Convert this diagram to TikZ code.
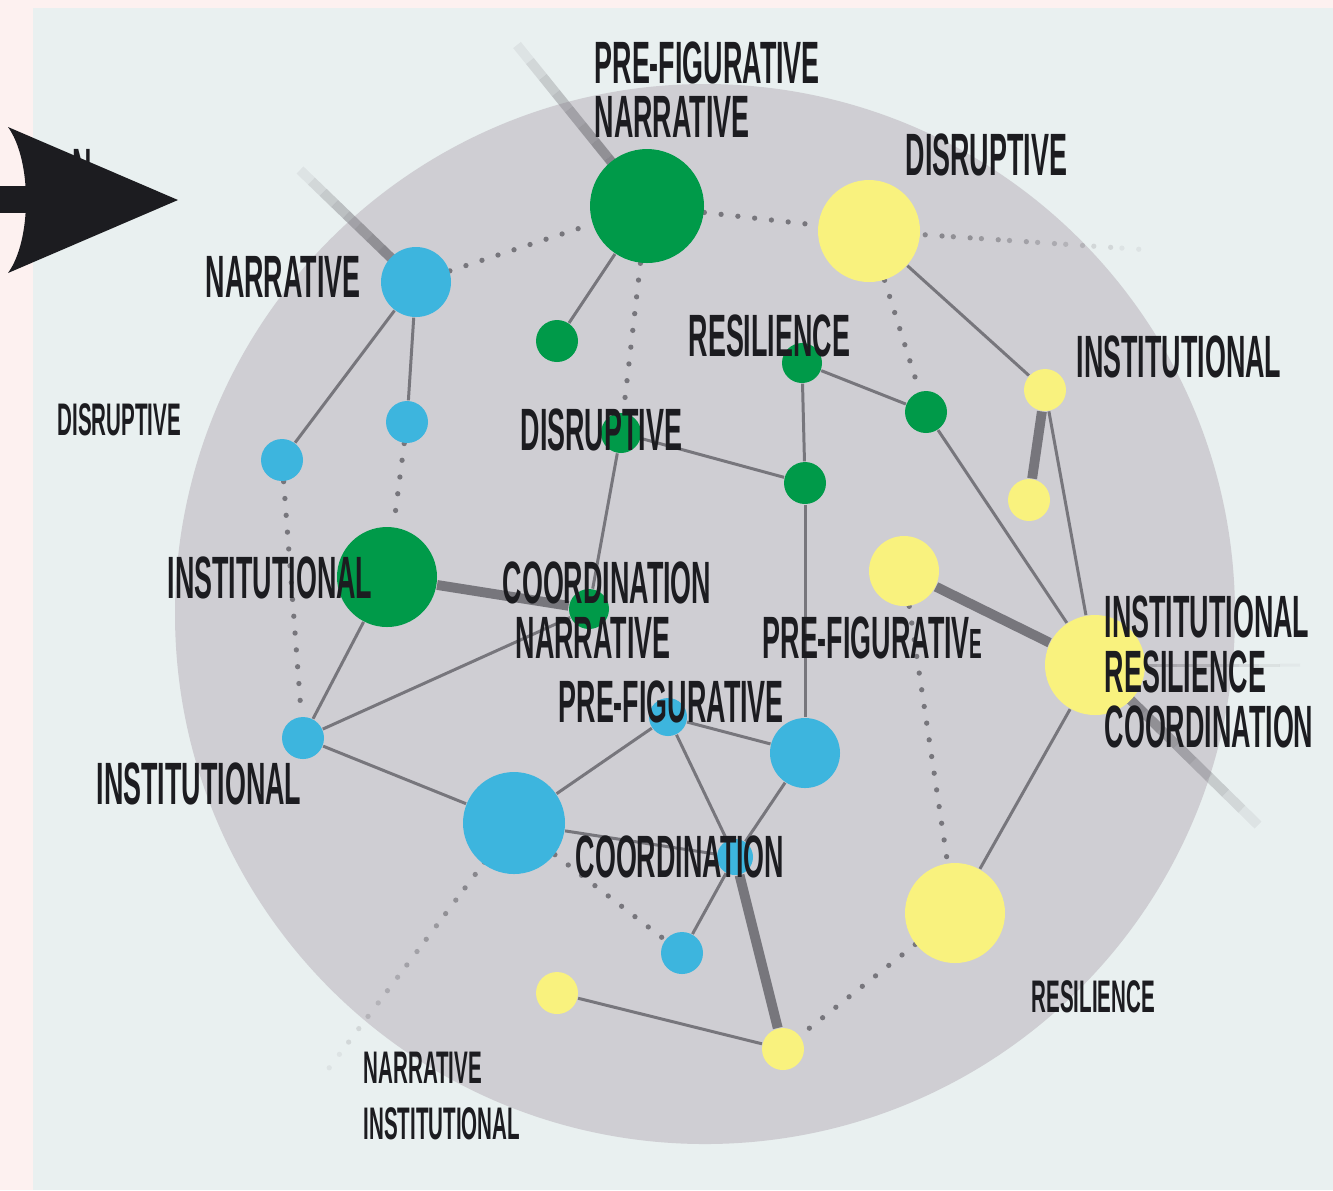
\documentclass[tikz,border=0pt]{standalone}
\usepackage{fontspec}
\newfontfamily\lbl[FakeStretch=0.45]{Liberation Sans}
\usetikzlibrary{calc}
\pgfdeclarelayer{back}
\pgfdeclarelayer{links}
\pgfsetlayers{back,links,main}
\definecolor{pinkbg}{HTML}{FDF1F0}
\definecolor{panel}{HTML}{E9F0F0}
\definecolor{disc}{HTML}{CFCED3}
\definecolor{grn}{HTML}{009A49}
\definecolor{blu}{HTML}{3DB5DE}
\definecolor{yel}{HTML}{F9F27E}
\definecolor{edgegray}{HTML}{77767C}
\definecolor{ink}{HTML}{1C1C20}
\tikzset{
    bubble/.style = {
        circle, inner sep=0pt, minimum size=#1*0.2mm
    },
    gnode/.style = {bubble=#1, fill=grn},
    bnode/.style = {bubble=#1, fill=blu},
    ynode/.style = {bubble=#1, fill=yel},
    link/.style = {draw=edgegray, line width=0.85pt},
    heavylink/.style = {draw=edgegray, line width=2.8pt},
    dotlink/.style = {
        draw=edgegray, line width=1.5pt, line cap=round, dash pattern=on 0pt off 4.8pt
    },
    bigtext/.style = {
        font=\lbl\bfseries\fontsize{17}{19}\selectfont, text=ink, inner sep=0pt, anchor=base west
    },
    smalltext/.style = {
        font=\lbl\bfseries\fontsize{13}{15}\selectfont, text=ink, inner sep=0pt, anchor=base west
    },
}

\begin{document}
\begin{tikzpicture}[x=0.1mm, y=-0.1mm]
        \useasboundingbox (0,0) rectangle (1333,1190);

        % Backdrop
        \begin{pgfonlayer}{back}
            \fill[pinkbg] (0,0) rectangle (1333,1190);
            \fill[panel] (33,8) rectangle (1333,1190);
            \fill[disc] (705,614) circle (530);
        \end{pgfonlayer}

        % Place the green nodes
        \node[gnode=57] (g1) at (647,206) {};
        \node[gnode=21] (g2) at (557,341) {};
        \node[gnode=20] (g3) at (802,363) {};
        \node[gnode=21] (g4) at (926,412) {};
        \node[gnode=20] (g5) at (621,433) {};
        \node[gnode=21] (g6) at (805,483) {};
        \node[gnode=50] (g7) at (387,577) {};
        \node[gnode=20] (g8) at (589,609) {};

        % Place the blue nodes
        \node[bnode=35] (b1) at (416,282) {};
        \node[bnode=21] (b2) at (407,422) {};
        \node[bnode=21] (b3) at (282,460) {};
        \node[bnode=21] (b4) at (303,738) {};
        \node[bnode=19] (b5) at (668,717) {};
        \node[bnode=35] (b6) at (805,753) {};
        \node[bnode=51] (b7) at (514,823) {};
        \node[bnode=18] (b8) at (735,857) {};
        \node[bnode=21] (b9) at (682,953) {};

        % Place the yellow nodes
        \node[ynode=51] (y1) at (869,231) {};
        \node[ynode=21] (y2) at (1045,390) {};
        \node[ynode=21] (y3) at (1029,500) {};
        \node[ynode=35] (y4) at (904,571) {};
        \node[ynode=50] (y5) at (1095,665) {};
        \node[ynode=50] (y6) at (955,913) {};
        \node[ynode=21] (y7) at (557,993) {};
        \node[ynode=21] (y8) at (783,1049) {};

        % Loose ends of the fading lines
        \coordinate (outG) at (517,45);
        \coordinate (outB) at (300,170);
        \coordinate (outYa) at (1258,825);
        \coordinate (outYb) at (1300,665);
        \coordinate (outYc) at (1150,250);
        \coordinate (outBb) at (320,1080);

        % Draw connections
        \begin{pgfonlayer}{links}
            \draw[link] (b1) -- (b3);
            \draw[link] (b1) -- (b2);
            \draw[link] (g1) -- (g2);
            \draw[link] (g3) -- (g4);
            \draw[link] (g3) -- (g6);
            \draw[link] (g5) -- (g6);
            \draw[link] (g5) -- (g8);
            \draw[link] (g6) -- (b6);
            \draw[link] (y1) -- (y2);
            \draw[link] (g4) -- (y5);
            \draw[link] (y2) -- (y5);
            \draw[link] (y5) -- (y6);
            \draw[link] (g7) -- (b4);
            \draw[link] (b4) -- (g8);
            \draw[link] (b4) -- (b7);
            \draw[link] (b7) -- (b5);
            \draw[link] (b7) -- (b8);
            \draw[link] (b5) -- (b6);
            \draw[link] (b5) -- (b8);
            \draw[link] (b6) -- (b8);
            \draw[link] (b8) -- (b9);
            \draw[link] (y7) -- (y8);

            \draw[heavylink] (g7) -- (g8);
            \draw[heavylink] (y2) -- (y3);
            \draw[heavylink] (y4) -- (y5);
            \draw[heavylink] (b8) -- (y8);

            \draw[dotlink] (b1) -- (g1);
            \draw[dotlink] (g1) -- (y1);
            \draw[dotlink] (g1) -- (g5);
            \draw[dotlink] (y1) -- (g4);
            \draw[dotlink] (b3) -- (b4);
            \draw[dotlink] (b2) -- (g7);
            \draw[dotlink] (y4) -- (y6);
            \draw[dotlink] (b7) -- (b9);
            \draw[dotlink] (y6) -- (y8);

            % fading lines
            \foreach \k [evaluate=\k as \op using 1-\k/10] in {0,...,9}{
                \draw[heavylink, draw opacity=\op] ($(g1)!{\k/10}!(outG)$) -- ($(g1)!{(\k+1)/10}!(outG)$);
                \draw[heavylink, draw opacity=\op] ($(b1)!{\k/10}!(outB)$) -- ($(b1)!{(\k+1)/10}!(outB)$);
                \draw[heavylink, draw opacity=\op] ($(y5)!{\k/10}!(outYa)$) -- ($(y5)!{(\k+1)/10}!(outYa)$);
                \draw[link, draw opacity=\op*0.6] ($(y5)!{\k/10}!(outYb)$) -- ($(y5)!{(\k+1)/10}!(outYb)$);
                \draw[dotlink, draw opacity=\op] ($(y1)!{\k/10}!(outYc)$) -- ($(y1)!{(\k+1)/10}!(outYc)$);
                \draw[dotlink, draw opacity=\op] ($(b7)!{\k/10}!(outBb)$) -- ($(b7)!{(\k+1)/10}!(outBb)$);
            }
        \end{pgfonlayer}

        % Labels
        \node[bigtext] (tPreA) at (594,83) {PRE-FIGURATIVE};
        \node[bigtext] (tNarA) at (594,137) {NARRATIVE};
        \node[bigtext] (tDisA) at (905,175) {DISRUPTIVE};
        \node[bigtext] (tNarB) at (205,297) {NARRATIVE};
        \node[bigtext] (tResA) at (688,356) {RESILIENCE};
        \node[bigtext] (tInsA) at (1076,377) {INSTITUTIONAL};
        \node[bigtext] (tDisB) at (520,450) {DISRUPTIVE};
        \node[bigtext] (tInsB) at (167,598) {INSTITUTIONAL};
        \node[bigtext] (tCooA) at (502,603) {COORDINATION};
        \node[bigtext] (tNarC) at (515,658) {NARRATIVE};
        \node[bigtext] (tPreB) at (762,658) {PRE-FIGURATIV{\fontsize{12}{14}\selectfont E}};
        \node[bigtext] (tInsC) at (1104,637) {INSTITUTIONAL};
        \node[bigtext] (tResB) at (1104,692) {RESILIENCE};
        \node[bigtext] (tCooB) at (1104,747) {COORDINATION};
        \node[bigtext] (tPreC) at (558,722) {PRE-FIGURATIVE};
        \node[bigtext] (tInsD) at (96,804) {INSTITUTIONAL};
        \node[bigtext] (tCooC) at (575,877) {COORDINATION};
        \node[smalltext] (tDisC) at (57,435) {DISRUPTIVE};
        \node[smalltext] (tResC) at (1031,1012) {RESILIENCE};
        \node[smalltext] (tNarD) at (363,1083) {NARRATIVE};
        \node[smalltext] (tInsE) at (363,1139) {INSTITUTIONAL};
        \node[bigtext] (tCut) at (72,190) {N};

        % Arrow
        \fill[ink] (0,186) rectangle (40,213);
        \fill[ink] (8,127) -- (178,200) -- (8,273) .. controls (32,240) and (32,160) .. (8,127);
    \end{tikzpicture}
\end{document}
